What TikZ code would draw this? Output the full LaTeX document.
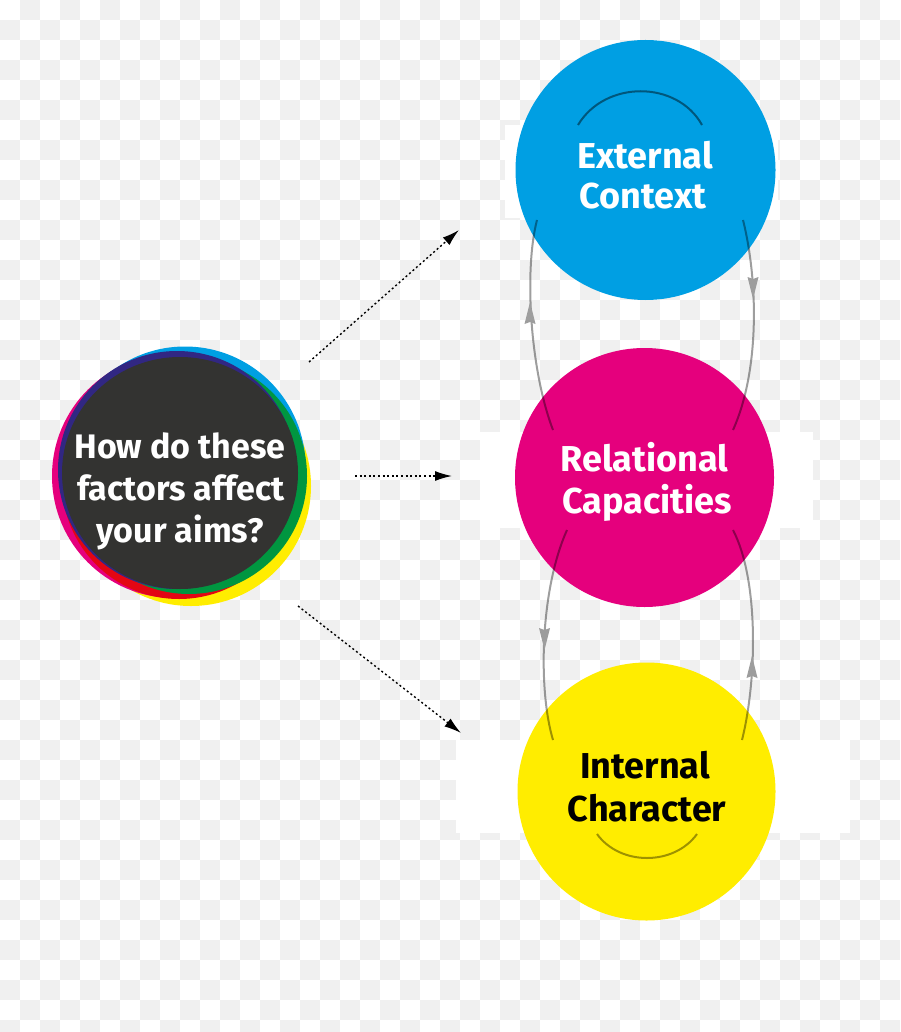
\documentclass[tikz,border=0pt]{standalone}
\usepackage{fontspec}
\setmainfont{Fira Sans}
\usetikzlibrary{arrows.meta,shapes.geometric}
\definecolor{cblue}{HTML}{009FE3}
\definecolor{cmag}{HTML}{E5007D}
\definecolor{cyel}{HTML}{FFED00}
\definecolor{cgreen}{HTML}{009640}
\definecolor{cred}{HTML}{E30613}
\definecolor{cnavy}{HTML}{312783}
\definecolor{cdark}{HTML}{333331}
\definecolor{chk}{HTML}{F0F0F0}
\definecolor{cgray}{HTML}{9D9D9D}
\tikzset{
  lbl/.style={font=\fontsize{36}{40}\selectfont\bfseries, inner sep=0pt, anchor=base},
  qlbl/.style={font=\fontsize{34}{42}\selectfont\bfseries, inner sep=0pt, anchor=base, text=white},
  bigcirc/.style={circle, inner sep=0pt, minimum size=#1},
  loopline/.style={draw=black, draw opacity=0.38, line width=2pt},
  headtri/.style={fill=cgray},
  smallarc/.style={draw=black, draw opacity=0.45, line width=2pt},
  dotarrow/.style={draw=black, line width=1.4pt, dash pattern=on 2pt off 2.6pt, -{Latex[length=17pt,width=10pt]}},
}
\begin{document}
\begin{tikzpicture}[x=1pt,y=-1pt]
\useasboundingbox (0,0) rectangle (900,1032);
\fill[white] (0,0) rectangle (900,1032);
\foreach \j in {0,...,51}{\foreach \i in {0,...,44}{%
  \pgfmathtruncatemacro{\p}{mod(\i+\j,2)}%
  \ifnum\p=1 \fill[chk] (\i*20,\j*20) rectangle ++(20,20);\fi}}
% white panels
\fill[white] (505,125) rectangle (778,218);
\fill[white] (480,432) rectangle (813,528);
\fill[white] (456,740) rectangle (850,833);
% question circle
\fill[cyel] (191,486) circle (120);
\fill[cmag] (174,476) circle (122);
\fill[cred] (179,482) circle (117);
\fill[cblue] (185,467) circle (120.5);
\fill[cgreen] (189,476) circle (118);
\fill[cnavy] (177,470) circle (119);
\node[ellipse, fill=cdark, minimum width=236pt, minimum height=232pt, inner sep=0pt] (q) at (180,473) {};
\node[qlbl] (q1) at (180,458) {How do these};
\node[qlbl] (q2) at (181,500) {factors affect};
\node[qlbl] (q3) at (180,542) {your aims?};
% three circles
\node[bigcirc=260pt, fill=cblue] (ext) at (645.5,170) {};
\node[bigcirc=259pt, fill=cmag] (rel) at (644.5,477.5) {};
\node[bigcirc=258pt, fill=cyel] (int) at (646.5,791.5) {};
\node[lbl, text=white] (e1) at (645,169) {External};
\node[lbl, text=white] (e2) at (643,209) {Context};
\node[lbl, text=white] (r1) at (644.5,471) {Relational};
\node[lbl, text=white] (r2) at (647,513) {Capacities};
\node[lbl, text=black] (i1) at (645,778) {Internal};
\node[lbl, text=black] (i2) at (647,821) {Character};
% loop end points
\coordinate (eL) at (537,220);
\coordinate (eR) at (743,220);
\coordinate (rTL) at (553,430);
\coordinate (rTR) at (733,430);
\coordinate (rBL) at (567,530);
\coordinate (rBR) at (733,530);
\coordinate (iL) at (553,740);
\coordinate (iR) at (742,740);
\draw[loopline] (rTL) .. controls (530,370) and (524,270) .. (eL);
\draw[loopline] (eR) .. controls (758,280) and (760,370) .. (rTR);
\draw[loopline] (rBL) .. controls (540,590) and (538,690) .. (iL);
\draw[loopline] (iR) .. controls (757,680) and (759,580) .. (rBR);
% arrow heads
\coordinate (h1) at (530,302);
\coordinate (h2) at (753,299);
\coordinate (h3) at (544.5,650);
\coordinate (h4) at (752,656);
\fill[headtri] (h1) -- ++(-5.5,22) -- ++(5.5,-2) -- ++(5.5,2) -- cycle;
\fill[headtri] (h2) -- ++(-5.5,-22) -- ++(5.5,2) -- ++(5.5,-2) -- cycle;
\fill[headtri] (h3) -- ++(-5.5,-22) -- ++(5.5,2) -- ++(5.5,-2) -- cycle;
\fill[headtri] (h4) -- ++(-5.5,22) -- ++(5.5,-2) -- ++(5.5,2) -- cycle;
% small arcs
\coordinate (a1) at (578,125);
\coordinate (a2) at (702,125);
\coordinate (b1) at (597,834);
\coordinate (b2) at (697,834);
\draw[smallarc] (a1) .. controls (605,80) and (677,80) .. (a2);
\draw[smallarc, draw opacity=0.38] (b1) .. controls (620,866) and (674,866) .. (b2);
% dotted arrows
\coordinate (d1s) at (309,362);
\coordinate (d1e) at (459,230);
\coordinate (d2s) at (355,476);
\coordinate (d2e) at (452,476);
\coordinate (d3s) at (298,606);
\coordinate (d3e) at (461,733);
\draw[dotarrow] (d1s) -- (d1e);
\draw[dotarrow] (d2s) -- (d2e);
\draw[dotarrow] (d3s) -- (d3e);
\end{tikzpicture}
\end{document}
